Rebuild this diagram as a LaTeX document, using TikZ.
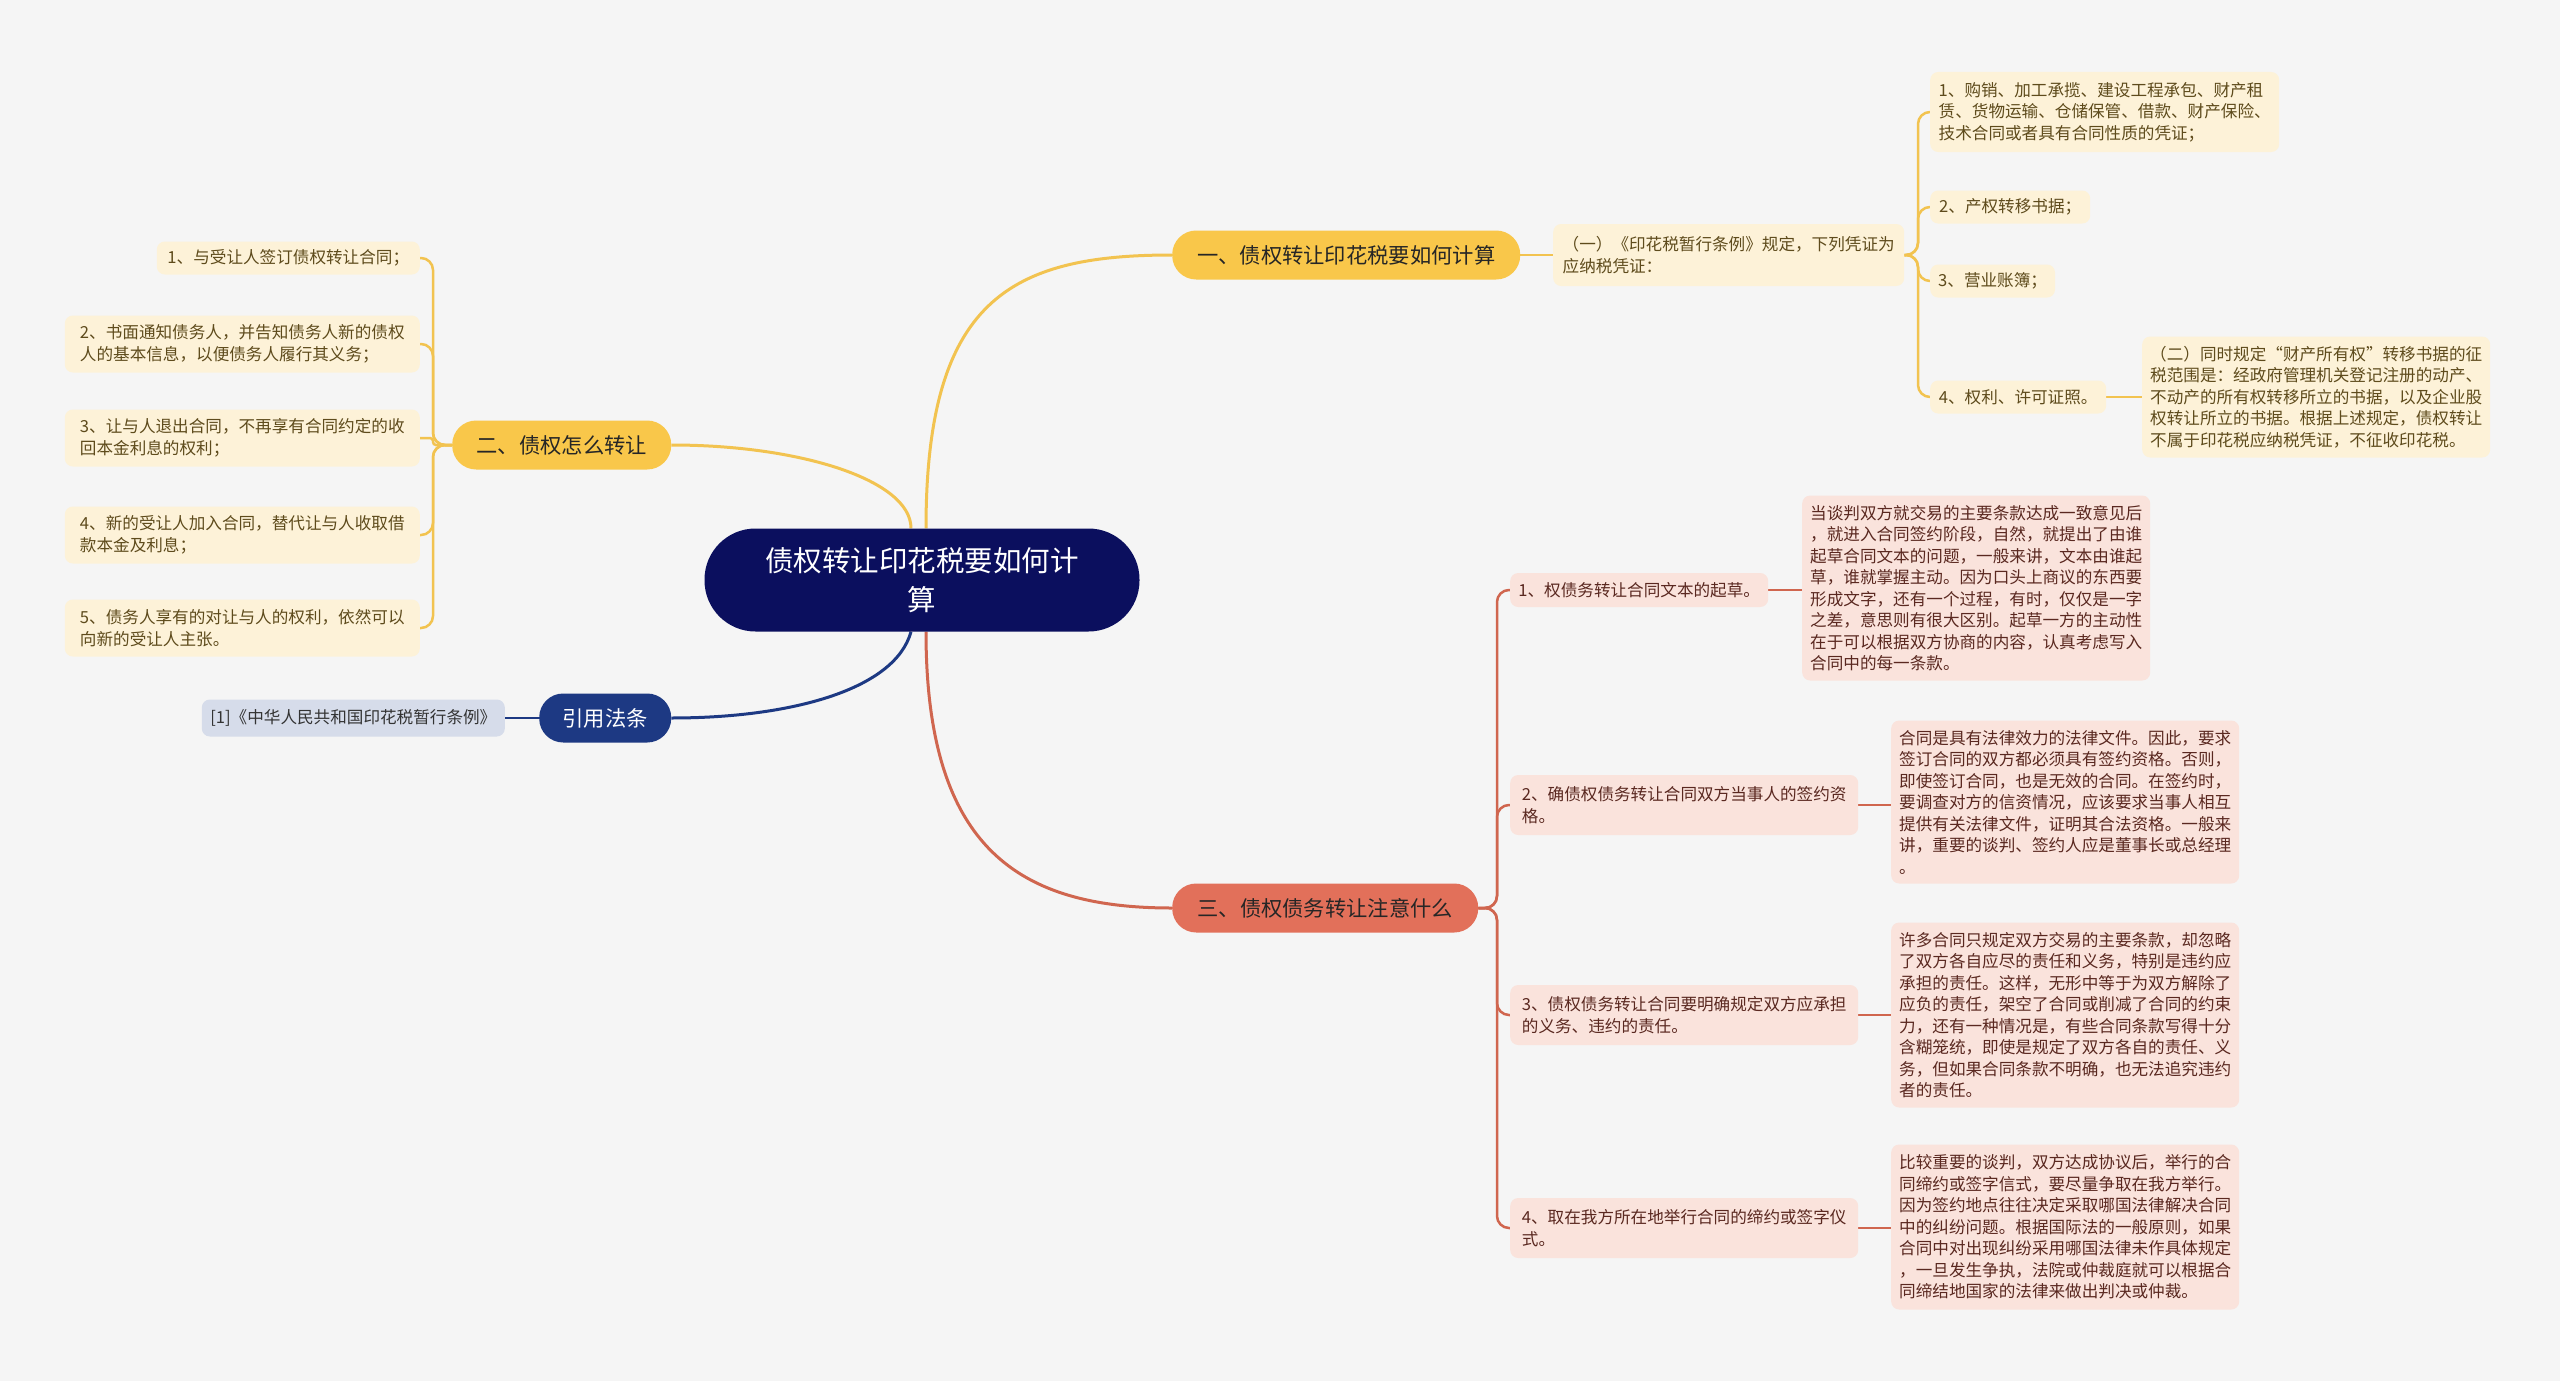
\documentclass[tikz,border=0pt]{standalone}
\usepackage{fontspec}
\newfontfamily\cjk{Noto Sans CJK SC}
\usetikzlibrary{backgrounds}
\definecolor{bgc}{HTML}{F5F5F5}
\definecolor{navy}{HTML}{0B0F5E}
\definecolor{yel}{HTML}{F9C74A}
\definecolor{yelline}{HTML}{F2C350}
\definecolor{yelfill}{HTML}{FDF2D8}
\definecolor{yeltext}{HTML}{5E4B1C}
\definecolor{blu}{HTML}{1D3983}
\definecolor{blufill}{HTML}{D6DCEA}
\definecolor{red}{HTML}{E2705A}
\definecolor{redline}{HTML}{D0664F}
\definecolor{redfill}{HTML}{FAE3DC}
\definecolor{redtext}{HTML}{5A2820}
\tikzset{
  leaf/.style={font=\cjk\fontsize{16.6}{21.5}\selectfont, align=left, inner xsep=8pt, inner ysep=5pt, rounded corners=8pt},
  leafY/.style={leaf, fill=yelfill, text=yeltext},
  leafR/.style={leaf, fill=redfill, text=redtext},
  leafB/.style={leaf, fill=blufill, text=black!80},
  br/.style={font=\cjk\fontsize{21.3}{26}\selectfont, align=center, inner xsep=4pt, minimum height=49pt, rounded corners=24pt, anchor=west},
  mainN/.style={font=\cjk\fontsize{28.5}{39}\selectfont, align=center, fill=navy, text=white, minimum width=435pt, minimum height=103pt, rounded corners=51pt},
  sz/.style 2 args={minimum width=#1pt, minimum height=#2pt},
  conY/.style={draw=yelline, line width=2.5pt},
  conR/.style={draw=redline, line width=2.5pt},
  conB/.style={draw=blu, line width=2.5pt}
}
\begin{document}
\begin{tikzpicture}[x=1pt,y=-1pt]
\useasboundingbox (0,0) rectangle (2560,1381);
% root
\node[mainN] (root) at (922,580) {债权转让印花税要如何计\\算};
% branches
\node[br, fill=yel, text=black!85, minimum width=348pt] (B1) at (1172,255) {一、债权转让印花税要如何计算};
\node[br, fill=yel, text=black!85, minimum width=219pt] (B2) at (452,445) {二、债权怎么转让};
\node[br, fill=blu, text=white, minimum width=132pt] (B3) at (539,718) {引用法条};
\node[br, fill=red, text=black!85, minimum width=306pt] (B4) at (1172,908) {三、债权债务转让注意什么};
% branch 1 leaves
\node[leafY, sz={351}{62}, anchor=west] (B1c) at (1553,255) {（一）《印花税暂行条例》规定，下列凭证为\\应纳税凭证：};
\node[leafY, sz={349}{80}, anchor=west] (G1) at (1930,112) {1、购销、加工承揽、建设工程承包、财产租\\赁、货物运输、仓储保管、借款、财产保险、\\技术合同或者具有合同性质的凭证；};
\node[leafY, sz={160}{33}, anchor=west] (G2) at (1930,207) {2、产权转移书据；};
\node[leafY, sz={121}{33}, anchor=west] (G3) at (1930,281) {3、营业账簿；};
\node[leafY, sz={176}{33}, anchor=west] (G4) at (1930,397) {4、权利、许可证照。};
\node[leafY, sz={346}{121}, anchor=west] (G4c) at (2142,397) {（二）同时规定“财产所有权”转移书据的征\\税范围是：经政府管理机关登记注册的动产、\\不动产的所有权转移所立的书据，以及企业股\\权转让所立的书据。根据上述规定，债权转让\\不属于印花税应纳税凭证，不征收印花税。};
% branch 2 leaves
\node[leafY, sz={263}{33}, anchor=east] (L1) at (420,258) {1、与受让人签订债权转让合同；};
\node[leafY, sz={355}{57}, anchor=east] (L2) at (420,344) {2、书面通知债务人，并告知债务人新的债权\\人的基本信息，以便债务人履行其义务；};
\node[leafY, sz={355}{57}, anchor=east] (L3) at (420,438) {3、让与人退出合同，不再享有合同约定的收\\回本金利息的权利；};
\node[leafY, sz={355}{57}, anchor=east] (L4) at (420,535) {4、新的受让人加入合同，替代让与人收取借\\款本金及利息；};
\node[leafY, sz={355}{57}, anchor=east] (L5) at (420,628) {5、债务人享有的对让与人的权利，依然可以\\向新的受让人主张。};
% branch 3 leaf
\node[leafB, sz={303}{37}, anchor=east] (R1) at (505,718) {[1]《中华人民共和国印花税暂行条例》};
% branch 4 leaves
\node[leafR, sz={258}{34}, anchor=west] (S1) at (1510,590) {1、权债务转让合同文本的起草。};
\node[leafR, sz={345}{185}, anchor=west] (S1d) at (1802,588) {当谈判双方就交易的主要条款达成一致意见后\\，就进入合同签约阶段，自然，就提出了由谁\\起草合同文本的问题，一般来讲，文本由谁起\\草，谁就掌握主动。因为口头上商议的东西要\\形成文字，还有一个过程，有时，仅仅是一字\\之差，意思则有很大区别。起草一方的主动性\\在于可以根据双方协商的内容，认真考虑写入\\合同中的每一条款。};
\node[leafR, sz={348}{60}, anchor=west] (S2) at (1510,805) {2、确债权债务转让合同双方当事人的签约资\\格。};
\node[leafR, sz={346}{163}, anchor=west] (S2d) at (1891,802) {合同是具有法律效力的法律文件。因此，要求\\签订合同的双方都必须具有签约资格。否则，\\即使签订合同，也是无效的合同。在签约时，\\要调查对方的信资情况，应该要求当事人相互\\提供有关法律文件，证明其合法资格。一般来\\讲，重要的谈判、签约人应是董事长或总经理\\。};
\node[leafR, sz={348}{60}, anchor=west] (S3) at (1510,1015) {3、债权债务转让合同要明确规定双方应承担\\的义务、违约的责任。};
\node[leafR, sz={346}{185}, anchor=west] (S3d) at (1891,1015) {许多合同只规定双方交易的主要条款，却忽略\\了双方各自应尽的责任和义务，特别是违约应\\承担的责任。这样，无形中等于为双方解除了\\应负的责任，架空了合同或削减了合同的约束\\力，还有一种情况是，有些合同条款写得十分\\含糊笼统，即使是规定了双方各自的责任、义\\务，但如果合同条款不明确，也无法追究违约\\者的责任。};
\node[leafR, sz={348}{60}, anchor=west] (S4) at (1510,1228) {4、取在我方所在地举行合同的缔约或签字仪\\式。};
\node[leafR, sz={346}{165}, anchor=west] (S4d) at (1891,1227) {比较重要的谈判，双方达成协议后，举行的合\\同缔约或签字信式，要尽量争取在我方举行。\\因为签约地点往往决定采取哪国法律解决合同\\中的纠纷问题。根据国际法的一般原则，如果\\合同中对出现纠纷采用哪国法律未作具体规定\\，一旦发生争执，法院或仲裁庭就可以根据合\\同缔结地国家的法律来做出判决或仲裁。};
\begin{pgfonlayer}{background}
\fill[bgc] (0,0) rectangle (2560,1381);
% root connectors
\draw[conY, line width=3pt] ([xshift=4pt]root.north) .. controls (926,300) and (1010,255) .. (B1.west);
\draw[conY, line width=3pt] ([xshift=-11pt]root.north) .. controls (911,480) and (800,445) .. (B2.east);
\draw[conB, line width=3pt] ([xshift=-11pt]root.south) .. controls (895,690) and (790,718) .. (B3.east);
\draw[conR, line width=3pt] ([xshift=4pt]root.south) .. controls (926,850) and (1020,908) .. (B4.west);
% branch 1
\draw[conY] (B1.east) -- (B1c.west);
\draw[conY, rounded corners=12pt] (B1c.east) -- (1918,255) -- (1918,112) -- (G1.west);
\draw[conY, rounded corners=12pt] (B1c.east) -- (1918,255) -- (1918,207) -- (G2.west);
\draw[conY, rounded corners=12pt] (B1c.east) -- (1918,255) -- (1918,281) -- (G3.west);
\draw[conY, rounded corners=12pt] (B1c.east) -- (1918,255) -- (1918,397) -- (G4.west);
\draw[conY] (G4.east) -- (G4c.west);
% branch 2
\draw[conY, rounded corners=12pt] (B2.west) -- (433,445) -- (433,258) -- (L1.east);
\draw[conY, rounded corners=12pt] (B2.west) -- (433,445) -- (433,344) -- (L2.east);
\draw[conY, rounded corners=3pt] (B2.west) -- (433,445) -- (433,438) -- (L3.east);
\draw[conY, rounded corners=12pt] (B2.west) -- (433,445) -- (433,535) -- (L4.east);
\draw[conY, rounded corners=12pt] (B2.west) -- (433,445) -- (433,628) -- (L5.east);
% branch 3
\draw[conB] (B3.west) -- (R1.east);
% branch 4
\draw[conR, rounded corners=12pt] (B4.east) -- (1497,908) -- (1497,590) -- (S1.west);
\draw[conR, rounded corners=12pt] (B4.east) -- (1497,908) -- (1497,805) -- (S2.west);
\draw[conR, rounded corners=12pt] (B4.east) -- (1497,908) -- (1497,1015) -- (S3.west);
\draw[conR, rounded corners=12pt] (B4.east) -- (1497,908) -- (1497,1228) -- (S4.west);
\draw[conR] (S1.east) -- (S1.east -| S1d.west);
\draw[conR] (S2.east) -- (S2.east -| S2d.west);
\draw[conR] (S3.east) -- (S3d.west);
\draw[conR] (S4.east) -- (S4.east -| S4d.west);
\end{pgfonlayer}
\end{tikzpicture}
\end{document}
